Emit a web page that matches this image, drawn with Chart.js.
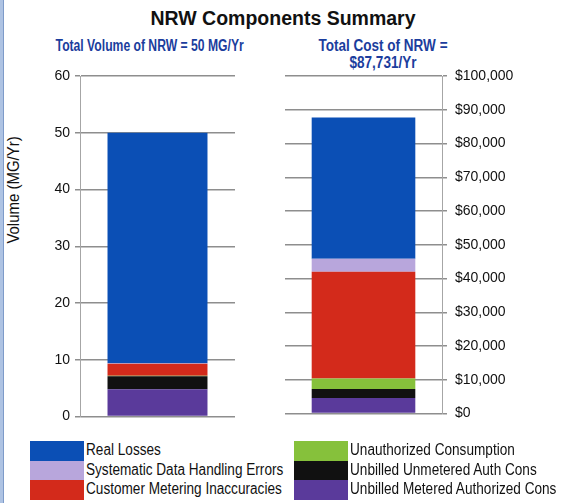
<!DOCTYPE html>
<html>
<head>
<meta charset="utf-8">
<title>NRW Components Summary</title>
<script src="https://cdn.jsdelivr.net/npm/chart.js@4.4.1/dist/chart.umd.min.js"></script>
<style>
    html, body { margin: 0; padding: 0; background: #fff; }
    body {
        width: 577px; height: 503px; position: relative; overflow: hidden;
        font-family: "Liberation Sans", Arial, sans-serif;
    }
    .frame { position: absolute; left: 0; top: 0; width: 3px; height: 503px; background: #aec3e3; border-right: 1px solid #7e9bc9; }
    #title { position: absolute; left: 0; top: 7px; width: 566px; text-align: center; font: bold 19.5px "Liberation Sans", Arial, sans-serif; color: #111; }
    /* condensed look: no narrow face installed, so squeeze horizontally */
    .sub { position: absolute; color: #1b3d9d; font: bold 16px "Liberation Sans", Arial, sans-serif; text-align: center; line-height: 17px; white-space: nowrap; transform: scaleX(0.845); transform-origin: 50% 0; }
    #subVol { left: 28px; width: 230px; top: 37px; transform: scaleX(0.76); }
    #subCost { left: 298px; width: 170px; top: 37px; }
    #yTitle { position: absolute; left: 14px; top: 190px; transform: translate(-50%, -50%) rotate(-90deg) scaleX(0.88); white-space: nowrap; font: 17px "Liberation Sans", Arial, sans-serif; color: #111; }
    canvas { position: absolute; top: 0; }
    #volChart { left: 0; }
    #costChart { left: 240px; }
    .legend-col { position: absolute; top: 441px; }
    .legend-item { position: relative; height: 19.7px; }
    .legend-item span.box { position: absolute; left: 0; top: 0; width: 54px; height: 19.7px; }
    .legend-item span.txt { position: absolute; left: 56px; top: 0; line-height: 19.7px; white-space: nowrap; font: 16px "Liberation Sans", Arial, sans-serif; color: #111; transform: scaleX(0.85); transform-origin: 0 50%; }
</style>
</head>
<body>
<div class="frame"></div>
<div id="title">NRW Components Summary</div>
<div class="sub" id="subVol"></div>
<div class="sub" id="subCost"></div>
<div id="yTitle">Volume (MG/Yr)</div>
<canvas id="volChart" width="288" height="430"></canvas>
<canvas id="costChart" width="337" height="430"></canvas>
<div class="legend-col" id="legendLeft" style="left:30px"></div>
<div class="legend-col" id="legendRight" style="left:294px"></div>
<script>
// components, stacked bottom to top
const SERIES = [
    'Unbilled Metered Authorized Cons',
    'Unbilled Unmetered Auth Cons',
    'Unauthorized Consumption',
    'Customer Metering Inaccuracies',
    'Systematic Data Handling Errors',
    'Real Losses',
];
const SERIES_COLORS = ['#5a3a9b', '#111111', '#86c13b', '#d32a1b', '#b8a6dc', '#0b4fb5'];

const VOLUME = [4.8, 2.3, 0.1, 2.1, 0.1, 40.6];          // MG/Yr
const COST = [4600, 2700, 3100, 31600, 3900, 41831];     // $/Yr

const VOLUME_TICKS = [0, 10, 20, 30, 40, 50, 60];
const COST_TICKS = [0, 10000, 20000, 30000, 40000, 50000, 60000, 70000, 80000, 90000, 100000];

const sum = arr => arr.reduce((s, v) => s + v, 0);
const money = v => '$' + Math.round(v).toLocaleString('en-US');

document.getElementById('subVol').textContent = `Total Volume of NRW = ${Math.round(sum(VOLUME))} MG/Yr`;
document.getElementById('subCost').innerHTML = `Total Cost of NRW =<br>${money(sum(COST))}/Yr`;

function stackChart(canvas, values, ticks, o) {
    return new Chart(canvas, {
        type: 'bar',
        data: {
            labels: [''],
            datasets: SERIES.map((name, i) => ({
                label: name,
                data: [values[i]],
                backgroundColor: SERIES_COLORS[i],
                borderWidth: 0,
                barPercentage: o.barPct,
                categoryPercentage: 1,
            })),
        },
        options: {
            responsive: false,
            animation: false,
            layout: { padding: o.padding },
            plugins: { legend: { display: false }, tooltip: { enabled: false } },
            scales: {
                x: { stacked: true, display: false },
                y: {
                    stacked: true,
                    position: o.side,
                    min: ticks[0],
                    max: ticks[ticks.length - 1],
                    afterBuildTicks: s => { s.ticks = ticks.map(v => ({ value: v })); },
                    afterFit: s => { s.width = o.axisWidth; },
                    grid: { color: '#8e8e8e', lineWidth: 1.5, tickLength: 5 },
                    border: { color: '#a6a6a6', width: 1 },
                    ticks: {
                        color: '#111',
                        padding: o.tickPad,
                        font: { family: '"Liberation Sans", Arial, sans-serif', size: 14 },
                        callback: o.format,
                    },
                },
            },
        },
    });
}

stackChart(document.getElementById('volChart'), VOLUME, VOLUME_TICKS, {
    side: 'left', axisWidth: 80, tickPad: 5, barPct: 0.645,
    padding: { top: 76, bottom: 11, left: 0, right: 53 },
    format: v => v,
});

stackChart(document.getElementById('costChart'), COST, COST_TICKS, {
    side: 'right', axisWidth: 135, tickPad: 8, barPct: 0.66,
    padding: { top: 76, bottom: 11, left: 45, right: 0 },
    format: v => money(v),
});

// legend: two columns, read top-down from the top of the stack
const order = SERIES.map((_, i) => i).reverse();
order.forEach((idx, n) => {
    const col = document.getElementById(n < 3 ? 'legendLeft' : 'legendRight');
    const item = document.createElement('div');
    item.className = 'legend-item';
    item.innerHTML = `<span class="box" style="background:${SERIES_COLORS[idx]}"></span><span class="txt"></span>`;
    item.querySelector('.txt').textContent = SERIES[idx];
    col.appendChild(item);
});
</script>
</body>
</html>
